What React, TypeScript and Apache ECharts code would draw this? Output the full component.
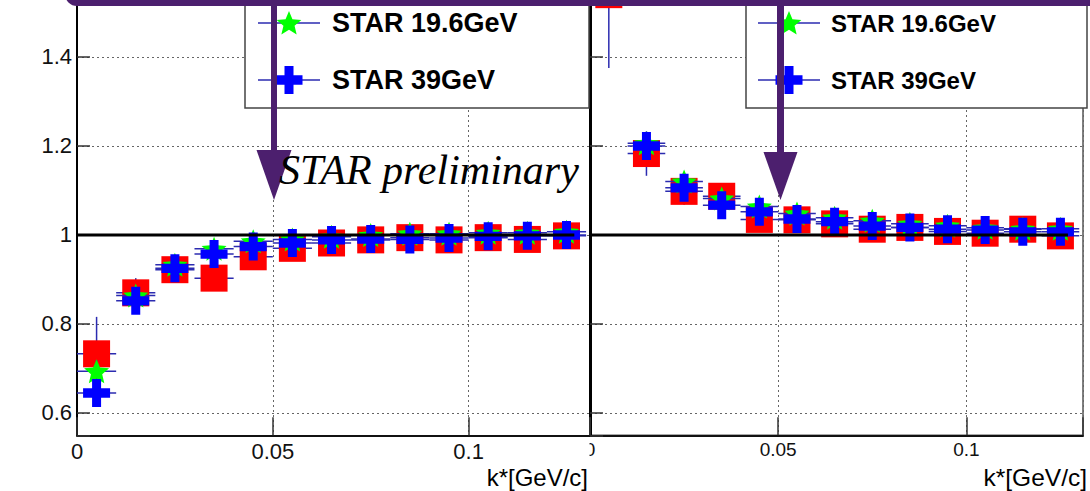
import React, { useEffect, useRef } from "react";
import * as echarts from "echarts";

// ---------------- data ----------------
const K_STAR = [0.005, 0.015, 0.025, 0.035, 0.045, 0.055, 0.065, 0.075, 0.085, 0.095, 0.105, 0.115, 0.125];
const BIN_HALF = 0.005;

// left panel
const LEFT_RED = [0.733, 0.87, 0.922, 0.903, 0.951, 0.97, 0.982, 0.989, 0.994, 0.989, 0.994, 0.99, 0.998];
const LEFT_RED_ERR = [0.083, 0.033, 0.028, 0.026, 0.024, 0.022, 0.02, 0.019, 0.018, 0.017, 0.016, 0.016, 0.015];
const LEFT_GREEN = [0.694, 0.864, 0.933, 0.969, 0.986, 0.99, 0.996, 1.0, 1.003, 1.003, 1.005, 1.005, 1.007];
const LEFT_GREEN_ERR = [0.025, 0.012, 0.01, 0.009, 0.008, 0.007, 0.007, 0.006, 0.006, 0.006, 0.005, 0.005, 0.005];
const LEFT_BLUE = [0.645, 0.852, 0.925, 0.957, 0.974, 0.982, 0.989, 0.991, 0.99, 0.993, 0.997, 0.998, 1.0];
const LEFT_BLUE_ERR = [0.02, 0.01, 0.008, 0.007, 0.006, 0.006, 0.005, 0.005, 0.005, 0.004, 0.004, 0.004, 0.004];

// right panel
const RIGHT_RED = [1.54, 1.183, 1.098, 1.087, 1.035, 1.034, 1.025, 1.013, 1.017, 1.008, 1.004, 1.013, 0.998];
const RIGHT_RED_ERR = [0.165, 0.05, 0.03, 0.028, 0.025, 0.023, 0.021, 0.02, 0.019, 0.018, 0.017, 0.017, 0.016];
const RIGHT_GREEN = [null, 1.206, 1.12, 1.082, 1.064, 1.048, 1.039, 1.032, 1.025, 1.021, 1.016, 1.014, 1.014];
const RIGHT_GREEN_ERR = [0.05, 0.015, 0.012, 0.01, 0.009, 0.008, 0.007, 0.007, 0.006, 0.006, 0.006, 0.005, 0.005];
const RIGHT_BLUE = [null, 1.2, 1.106, 1.067, 1.052, 1.036, 1.03, 1.02, 1.017, 1.013, 1.011, 1.007, 1.007];
const RIGHT_BLUE_ERR = [0.04, 0.012, 0.009, 0.008, 0.007, 0.006, 0.006, 0.005, 0.005, 0.005, 0.004, 0.004, 0.004];

const SERIES_NAMES = ["STAR 19.6GeV", "STAR 39GeV"];
const X_TITLE = "k*[GeV/c]";
const WATERMARK = "STAR preliminary";

const X_TICKS = [0, 0.05, 0.1];
const X_TICK_LABELS = ["0", "0.05", "0.1"];
const Y_TICKS = [0.6, 0.8, 1, 1.2, 1.4];
const Y_TICK_LABELS = ["0.6", "0.8", "1", "1.2", "1.4"];

const X_MIN = 0;
const X_MAX = 0.131;
const Y_MIN = 0.55;
const Y_MAX = 1.528;
const REF_LINE_X = [0, 0.127];
const REF_Y = 1;

// ---------------- styles ----------------
const RED = "#ff0000";
const GREEN = "#00ff00";
const BLUE = "#0000ff";
const ERR_COLOR = "#2b2bb0";
const PURPLE = "#4c1f6e";
const SANS = '"Liberation Sans", Arial, Helvetica, sans-serif';

function starPoints(cx: number, cy: number, R: number, ratio = 0.45): number[][] {
  const pts: number[][] = [];
  for (let i = 0; i < 10; i++) {
    const a = ((-90 + i * 36) * Math.PI) / 180;
    const r = i % 2 === 0 ? R : R * ratio;
    pts.push([cx + r * Math.cos(a), cy + r * Math.sin(a)]);
  }
  return pts;
}
function crossPoints(cx: number, cy: number, w: number, h: number): number[][] {
  const x0 = cx - w / 2, y0 = cy - h / 2;
  const a = w / 3, b = h / 3;
  return [
    [x0 + a, y0], [x0 + 2 * a, y0], [x0 + 2 * a, y0 + b], [x0 + w, y0 + b],
    [x0 + w, y0 + 2 * b], [x0 + 2 * a, y0 + 2 * b], [x0 + 2 * a, y0 + h], [x0 + a, y0 + h],
    [x0 + a, y0 + 2 * b], [x0, y0 + 2 * b], [x0, y0 + b], [x0 + a, y0 + b],
  ];
}
const STAR_PATH =
  "path://" +
  starPoints(50, 50, 50)
    .map((p, i) => (i === 0 ? "M" : "L") + p[0].toFixed(2) + "," + p[1].toFixed(2))
    .join(" ") +
  " Z";
const CROSS_PATH = "path://M9,0H18V9H27V18H18V27H9V18H0V9H9Z";

function pairs(ys: (number | null)[]) {
  const out: number[][] = [];
  ys.forEach((y, i) => {
    if (y != null) out.push([K_STAR[i], y]);
  });
  return out;
}
function triples(ys: (number | null)[], errs: number[]) {
  const out: number[][] = [];
  ys.forEach((y, i) => {
    if (y != null) out.push([K_STAR[i], y, errs[i]]);
  });
  return out;
}

function errorSeries(idx: number, ys: (number | null)[], errs: number[], z: number) {
  return {
    type: "custom",
    xAxisIndex: idx,
    yAxisIndex: idx,
    z,
    silent: true,
    clip: false,
    encode: { x: 0, y: 1 },
    data: triples(ys, errs),
    renderItem: (_params: any, api: any) => {
      const x = api.value(0), y = api.value(1), e = api.value(2);
      const pL = api.coord([x - BIN_HALF, y]);
      const pR = api.coord([x + BIN_HALF, y]);
      const pT = api.coord([x, y + e]);
      const pB = api.coord([x, y - e]);
      return {
        type: "group",
        children: [
          { type: "line", shape: { x1: pL[0], y1: pL[1], x2: pR[0], y2: pR[1] }, style: { stroke: ERR_COLOR, lineWidth: 1.5 } },
          { type: "line", shape: { x1: pT[0], y1: pT[1], x2: pB[0], y2: pB[1] }, style: { stroke: ERR_COLOR, lineWidth: 1.5 } },
        ],
      };
    },
  };
}
function markerSeries(idx: number, ys: (number | null)[], symbol: string, size: number | number[], color: string, z: number) {
  return {
    type: "scatter",
    xAxisIndex: idx,
    yAxisIndex: idx,
    z,
    silent: true,
    clip: false,
    symbol,
    symbolSize: size,
    itemStyle: { color, opacity: 1 },
    data: pairs(ys),
  };
}
function refLine(idx: number) {
  return {
    type: "line",
    xAxisIndex: idx,
    yAxisIndex: idx,
    z: 20,
    silent: true,
    symbol: "none",
    lineStyle: { color: "#000", width: 3 },
    data: REF_LINE_X.map((x) => [x, REF_Y]),
  };
}

function fmt(ticks: number[], labels: string[]) {
  return (v: number) => {
    const i = ticks.findIndex((t) => Math.abs(t - v) < 1e-9);
    return i >= 0 ? labels[i] : "";
  };
}

function xAxis(idx: number, fontSize: number) {
  return {
    type: "value",
    gridIndex: idx,
    min: X_MIN,
    max: X_MAX,
    interval: 0.05,
    axisLine: { show: true, onZero: false, lineStyle: { color: "#111", width: 2 } },
    axisTick: { show: true, inside: true, length: 18, lineStyle: { color: "#333", width: 1.5 } },
    axisLabel: { show: true, fontSize, fontFamily: SANS, color: "#111", margin: 5, formatter: fmt(X_TICKS, X_TICK_LABELS) },
    splitLine: { show: true, lineStyle: { color: "#666", width: 1, type: [2, 3] } },
  };
}
function yAxis(idx: number, showLabel: boolean, lineWidth: number) {
  return {
    type: "value",
    gridIndex: idx,
    min: Y_MIN,
    max: Y_MAX,
    splitNumber: 5,
    axisLine: { show: true, onZero: false, lineStyle: { color: "#000", width: lineWidth } },
    axisTick: { show: true, inside: true, length: 13, lineStyle: { color: "#333", width: 1.5 } },
    axisLabel: { show: showLabel, fontSize: 22, fontFamily: SANS, color: "#111", margin: 5, formatter: fmt(Y_TICKS, Y_TICK_LABELS) },
    splitLine: { show: true, lineStyle: { color: "#666", width: 1, type: [2, 3] } },
  };
}

function legendBlock(x0: number, x1: number, markerX: number, textX: number, fontSize: number) {
  const rows = [23, 80];
  const els: any[] = [
    { type: "rect", z: 100, shape: { x: x0, y: -10, width: x1 - x0, height: 118 }, style: { fill: "#fff", stroke: "#444", lineWidth: 1.5 } },
  ];
  rows.forEach((ry, i) => {
    els.push({ type: "line", z: 101, shape: { x1: markerX - 31, y1: ry, x2: markerX + 31, y2: ry }, style: { stroke: ERR_COLOR, lineWidth: 1.5 } });
    if (i === 0) {
      els.push({ type: "polygon", z: 101, shape: { points: starPoints(markerX, ry + 1, 13) }, style: { fill: GREEN } });
    } else {
      els.push({ type: "polygon", z: 101, shape: { points: crossPoints(markerX, ry, 27, 28) }, style: { fill: BLUE } });
    }
    els.push({
      type: "text",
      z: 101,
      x: textX,
      y: ry,
      style: { text: SERIES_NAMES[i], fontSize, fontWeight: "bold", fontFamily: SANS, fill: "#000", align: "left", verticalAlign: "middle" },
    });
  });
  return els;
}

function arrow(cx: number, shaftW: number, headTop: number, headW: number, tip: number) {
  return [
    { type: "rect", z: 110, shape: { x: cx - shaftW / 2, y: -10, width: shaftW, height: headTop + 12 }, style: { fill: PURPLE } },
    { type: "polygon", z: 110, shape: { points: [[cx - headW / 2, headTop], [cx + headW / 2, headTop], [cx, tip]] }, style: { fill: PURPLE } },
  ];
}

const option: any = {
  animation: false,
  backgroundColor: "#fff",
  grid: [
    { left: 77, top: 0, width: 513, height: 435.25 },
    { left: 590, top: 0, width: 493, height: 435.25, show: true, borderColor: "#555", borderWidth: 1.5, backgroundColor: "transparent" },
  ],
  xAxis: [xAxis(0, 22), xAxis(1, 19)],
  yAxis: [yAxis(0, true, 2), yAxis(1, false, 3)],
  series: [
    errorSeries(0, LEFT_RED, LEFT_RED_ERR, 2),
    markerSeries(0, LEFT_RED, "rect", 27, RED, 3),
    errorSeries(0, LEFT_GREEN, LEFT_GREEN_ERR, 4),
    markerSeries(0, LEFT_GREEN, STAR_PATH, [25, 24], GREEN, 5),
    errorSeries(0, LEFT_BLUE, LEFT_BLUE_ERR, 6),
    markerSeries(0, LEFT_BLUE, CROSS_PATH, [27, 28], BLUE, 7),
    refLine(0),
    errorSeries(1, RIGHT_RED, RIGHT_RED_ERR, 2),
    markerSeries(1, RIGHT_RED, "rect", 27, RED, 3),
    errorSeries(1, RIGHT_GREEN, RIGHT_GREEN_ERR, 4),
    markerSeries(1, RIGHT_GREEN, STAR_PATH, [25, 24], GREEN, 5),
    errorSeries(1, RIGHT_BLUE, RIGHT_BLUE_ERR, 6),
    markerSeries(1, RIGHT_BLUE, CROSS_PATH, [27, 28], BLUE, 7),
    refLine(1),
  ],
  graphic: {
    elements: [
      // hide left half of the right panel's "0" label (covered by left pad)
      { type: "rect", z: 100, shape: { x: 570, y: 440, width: 19.5, height: 24 }, style: { fill: "#fff" } },
      ...legendBlock(245, 589, 289, 332, 27),
      ...legendBlock(746, 1087, 789, 831, 24),
      ...arrow(274, 6, 150, 35, 200),
      ...arrow(780.5, 7, 152, 34, 200),
      {
        type: "text",
        z: 115,
        x: 279,
        y: 170,
        style: { text: WATERMARK, fontSize: 42, fontStyle: "italic", fontFamily: '"Liberation Serif", "DejaVu Serif", serif', fill: "#000", align: "left", verticalAlign: "middle" },
      },
      {
        type: "text",
        z: 100,
        x: 588,
        y: 477,
        style: { text: X_TITLE, fontSize: 24, fontFamily: SANS, fill: "#000", align: "right", verticalAlign: "middle" },
      },
      {
        type: "text",
        z: 100,
        x: 1087,
        y: 477,
        style: { text: X_TITLE, fontSize: 24.5, fontFamily: SANS, fill: "#000", align: "right", verticalAlign: "middle" },
      },
      { type: "rect", z: 120, shape: { x: 65, y: -30, width: 1100, height: 36, r: 12 }, style: { fill: PURPLE } },
    ],
  },
};

export default function App() {
  const ref = useRef<HTMLDivElement>(null);
  useEffect(() => {
    const chart = echarts.init(ref.current!, undefined, { renderer: "svg" });
    chart.setOption(option);
    return () => chart.dispose();
  }, []);
  return <div ref={ref} style={{ position: "absolute", left: 0, top: 0, width: 1090, height: 491 }} />;
}
